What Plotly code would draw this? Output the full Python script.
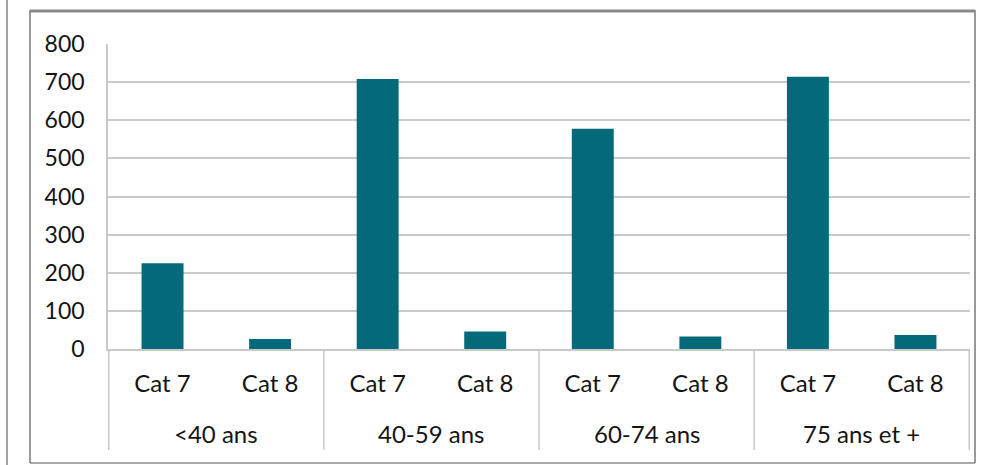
import plotly.graph_objects as go

# Age groups and categories
age_groups = ["<40 ans", "40-59 ans", "60-74 ans", "75 ans et +"]
categories = ["Cat 7", "Cat 8"]
cat7_values = [225, 708, 578, 714]
cat8_values = [26, 46, 33, 37]

keys, inner, values = [], [], []
for g, v7, v8 in zip(age_groups, cat7_values, cat8_values):
    for c, v in zip(categories, (v7, v8)):
        keys.append(f"{g} | {c}")
        inner.append(c)
        values.append(v)

y_ticks = [0, 100, 200, 300, 400, 500, 600, 700, 800]

BAR = "#046a79"
GRID = "#c9c9c9"
TEXT = "#141414"
FONT = "Lato"

fig = go.Figure(
    go.Bar(
        x=keys,
        y=values,
        marker=dict(color=BAR, line=dict(width=0)),
        showlegend=False,
    )
)

W, H = 992, 465
L, R, T, B = 108, 22, 44, 116
pw, ph = W - L - R, H - T - B


def px(x):
    return (x - L) / pw


def py(y):
    return (H - B - y) / ph


n_cat = len(categories)
shapes = []
annotations = []

# group dividers below the axis, at every group boundary
for i in range(len(age_groups) + 1):
    xb = i * n_cat - 0.5
    shapes.append(dict(type="line", xref="x", yref="paper",
                       x0=xb, x1=xb, y0=0, y1=py(450),
                       line=dict(color=GRID, width=1.5)))

# group labels centred under each pair of bars
for i, g in enumerate(age_groups):
    xc = i * n_cat + (n_cat - 1) / 2
    annotations.append(dict(text=g, xref="x", yref="paper",
                            x=xc, y=py(433), showarrow=False,
                            xanchor="center", yanchor="middle",
                            font=dict(family=FONT, size=24, color=TEXT)))

# outer frame and page border
shapes += [
    dict(type="line", xref="paper", yref="paper",
         x0=px(30), x1=px(30), y0=py(10), y1=py(463),
         line=dict(color="#555555", width=1.2)),
    dict(type="line", xref="paper", yref="paper",
         x0=px(975), x1=px(975), y0=py(10), y1=py(463),
         line=dict(color="#555555", width=1.2)),
    dict(type="line", xref="paper", yref="paper",
         x0=px(30), x1=px(975), y0=py(463), y1=py(463),
         line=dict(color="#555555", width=1.2)),
    dict(type="line", xref="paper", yref="paper",
         x0=px(30), x1=px(975), y0=py(11), y1=py(11),
         line=dict(color="#8a8a8a", width=3)),
    dict(type="line", xref="paper", yref="paper",
         x0=px(7), x1=px(7), y0=py(0), y1=py(465),
         line=dict(color="#666666", width=1.2)),
]

fig.update_layout(
    width=W,
    height=H,
    margin=dict(l=L, r=R, t=T, b=B),
    paper_bgcolor="white",
    plot_bgcolor="white",
    bargap=0.61,
    font=dict(family=FONT, size=24, color=TEXT),
    xaxis=dict(
        type="category",
        tickvals=keys,
        ticktext=inner,
        showgrid=False,
        showline=True,
        linecolor=GRID,
        linewidth=1.5,
        ticks="",
        ticklabelstandoff=12,
        tickfont=dict(family=FONT, size=24, color=TEXT),
    ),
    yaxis=dict(
        range=[0, 800],
        tickvals=y_ticks,
        showgrid=True,
        gridcolor=GRID,
        gridwidth=1.5,
        zeroline=False,
        showline=True,
        linecolor=GRID,
        linewidth=1.5,
        ticks="",
        ticklabelstandoff=17,
        tickfont=dict(family=FONT, size=23, color=TEXT),
    ),
    shapes=shapes,
    annotations=annotations,
)

fig.write_html("out.html")
